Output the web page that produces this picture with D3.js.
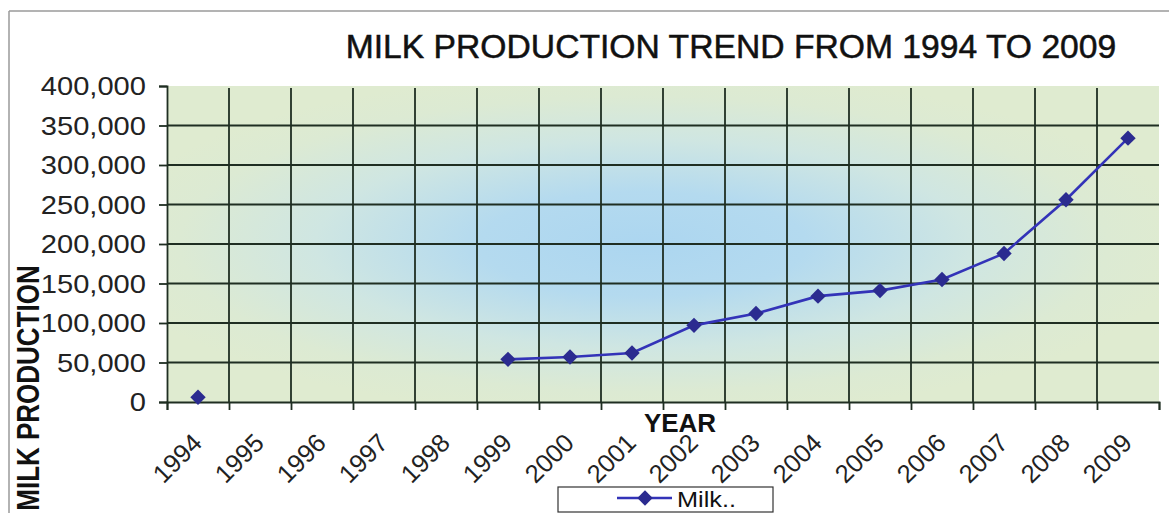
<!DOCTYPE html>
<html><head><meta charset="utf-8">
<script src="https://cdn.jsdelivr.net/npm/d3@7"></script>
<style>
html,body{margin:0;padding:0;background:#fff;}
svg{display:block;font-family:"Liberation Sans",Arial,sans-serif;}
</style></head>
<body>
<svg id="c" width="1169" height="513"></svg>
<script>
const years = ["1994","1995","1996","1997","1998","1999","2000","2001","2002","2003","2004","2005","2006","2007","2008","2009"];
const milk = [6000,null,null,null,null,54000,57000,62000,97000,112000,134000,141000,155000,188000,256000,334000];
const yTicks = [0,50000,100000,150000,200000,250000,300000,350000,400000];
const seriesName = "Milk..";
const titleText = "MILK PRODUCTION TREND FROM 1994 TO 2009";

const svg = d3.select("#c");
const L = 167, R = 1159, T = 86, B = 402;

const defs = svg.append("defs");
const g = defs.append("radialGradient").attr("id","bg")
  .attr("cx",0.48).attr("cy",0.5).attr("r",0.55).attr("fx",0.48).attr("fy",0.5);
[[0,"#acd6f0"],[0.3,"#b4daef"],[0.6,"#cfe6e2"],[0.85,"#dcead3"],[1,"#dfebd0"]]
  .forEach(([o,c])=>g.append("stop").attr("offset",o).attr("stop-color",c));

// outer border
svg.append("line").attr("x1",9).attr("x2",1169).attr("y1",11).attr("y2",11).attr("stroke","#9a9a9a").attr("stroke-width",1.5);
svg.append("line").attr("x1",9).attr("x2",9).attr("y1",11).attr("y2",513).attr("stroke","#9a9a9a").attr("stroke-width",1.5);

const x = d3.scaleBand().domain(years).range([L,R]).padding(0);
const y = d3.scaleLinear().domain([0,400000]).range([B,T]);
const cx = d => x(d)+x.bandwidth()/2;

svg.append("rect").attr("x",L).attr("y",T).attr("width",R-L).attr("height",B-T).attr("fill","url(#bg)");

const gridC = "#1f2e22";
svg.append("g").selectAll("line").data(yTicks.filter(v=>v>0 && v<400000)).join("line")
  .attr("x1",L).attr("x2",R).attr("y1",d=>y(d)).attr("y2",d=>y(d))
  .attr("stroke",gridC).attr("stroke-width",1.8);
svg.append("g").selectAll("line").data(years.slice(1)).join("line")
  .attr("x1",d=>x(d)).attr("x2",d=>x(d)).attr("y1",T+2).attr("y2",B)
  .attr("stroke",gridC).attr("stroke-width",1.8);

// y axis
const yAxis = d3.axisLeft(y).tickValues(yTicks).tickSize(8).tickFormat("");
const ya = svg.append("g").attr("transform",`translate(${L},0)`).call(yAxis);
ya.select(".domain").attr("stroke",gridC).attr("stroke-width",1.8);
ya.selectAll(".tick line").attr("stroke",gridC).attr("stroke-width",1.8);
const fmt = d3.format(",");
svg.append("g").selectAll("text").data(yTicks).join("text")
  .attr("transform",d=>`translate(146,${y(d)}) scale(1.12,1)`)
  .attr("text-anchor","end").attr("dy","0.36em")
  .attr("font-size",26).attr("fill","#222").text(d=>fmt(d));

// x axis
const xAxis = d3.axisBottom(d3.scaleLinear().domain([0,16]).range([L,R])).tickValues(d3.range(0,17)).tickSize(8).tickFormat("");
const xa = svg.append("g").attr("transform",`translate(0,${B})`).call(xAxis);
xa.select(".domain").attr("stroke",gridC).attr("stroke-width",1.8);
xa.selectAll(".tick line").attr("stroke",gridC).attr("stroke-width",1.8);

svg.append("g").selectAll("text").data(years).join("text")
  .attr("transform",d=>`translate(${cx(d)-1},${B+36}) rotate(-45)`)
  .attr("text-anchor","end").attr("dy","0.36em")
  .attr("font-size",25.5).attr("fill","#222").text(d=>d);

// line
const pts = years.map((d,i)=>({d,v:milk[i]}));
const line = d3.line().defined(p=>p.v!=null).x(p=>cx(p.d)).y(p=>y(p.v));
svg.append("path").datum(pts).attr("d",line).attr("fill","none").attr("stroke","#3333b8").attr("stroke-width",2.6);
const sym = d3.symbol().type(d3.symbolSquare).size(118);
svg.append("g").selectAll("path").data(pts.filter(p=>p.v!=null)).join("path")
  .attr("transform",p=>`translate(${cx(p.d)},${y(p.v)}) rotate(45)`)
  .attr("d",sym).attr("fill","#2b2b90");

// titles
svg.append("text").attr("transform","translate(731,58) scale(1.02,1)").attr("text-anchor","middle")
  .attr("font-size",33).attr("fill","#111").attr("stroke","#111").attr("stroke-width",0.5).text(titleText);
svg.append("text").attr("transform","translate(680,432)").attr("text-anchor","middle")
  .attr("font-size",26).attr("font-weight","bold").attr("fill","#111").text("YEAR");
svg.append("text").attr("transform","translate(39,388) scale(1.2,1) rotate(-90)").attr("text-anchor","middle")
  .attr("font-size",26).attr("font-weight","bold").attr("fill","#111").text("MILK PRODUCTION");

// legend
svg.append("rect").attr("x",558).attr("y",487).attr("width",215).attr("height",25)
  .attr("fill","#fff").attr("stroke","#333").attr("stroke-width",1.2);
svg.append("line").attr("x1",617).attr("x2",672).attr("y1",498).attr("y2",498).attr("stroke","#3333b8").attr("stroke-width",2.6);
svg.append("path").attr("transform","translate(645,498) rotate(45)").attr("d",sym).attr("fill","#2b2b90");
svg.append("text").attr("transform","translate(677,507) scale(1.15,1)").attr("font-size",22).attr("fill","#111").text(seriesName);
</script>
</body></html>
